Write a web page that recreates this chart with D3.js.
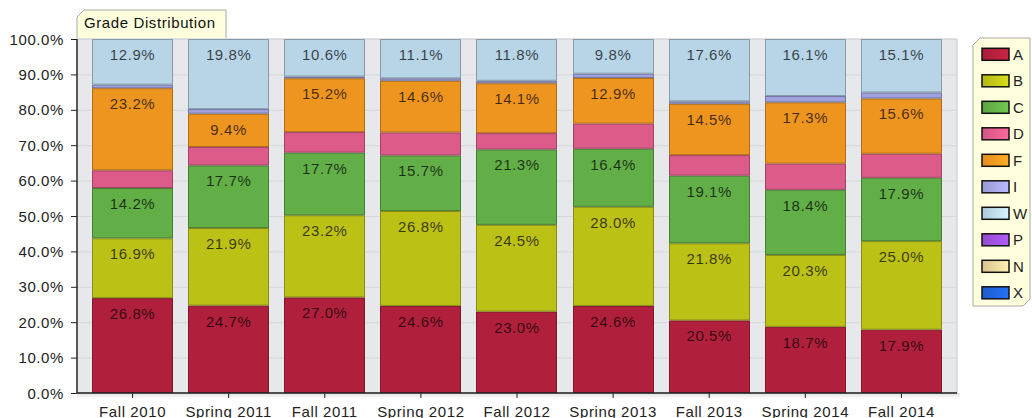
<!doctype html>
<html>
  <head>
    <script src="https://cdn.jsdelivr.net/npm/d3@7/dist/d3.min.js"></script>
    <style>
      body, html {
        margin: 0;
        background: #fff;
      }
      svg {
        display: block;
        font-family: "Liberation Sans", Arial, sans-serif;
      }
      .tick text, text.lbl, text.leg, text.title {
        letter-spacing: 0.6px;
      }
    </style>
  </head>
  <body>
    <svg width="1032" height="418"></svg>
    <script>
      var terms = ["Fall 2010", "Spring 2011", "Fall 2011", "Spring 2012", "Fall 2012",
                   "Spring 2013", "Fall 2013", "Spring 2014", "Fall 2014"];
      var grades = ["A", "B", "C", "D", "F", "I", "W", "P", "N", "X"];
      var colors = ["#b01f3c", "#bcc116", "#62ae47", "#dc5b8a", "#ee951f",
                    "#a0a2de", "#b8d5e8", "#9b4fd8", "#e6cf9a", "#1f62d8"];

      // percent of students per grade, one value per term
      var gA = [26.8, 24.7, 27.0, 24.6, 23.0, 24.6, 20.5, 18.7, 17.9];
      var gB = [16.9, 21.9, 23.2, 26.8, 24.5, 28.0, 21.8, 20.3, 25.0];
      var gC = [14.2, 17.7, 17.7, 15.7, 21.3, 16.4, 19.1, 18.4, 17.9];
      var gD = [5.0, 5.2, 5.8, 6.5, 4.6, 7.1, 5.8, 7.4, 6.8];
      var gF = [23.2, 9.4, 15.2, 14.6, 14.1, 12.9, 14.5, 17.3, 15.6];
      var gI = [1.0, 1.3, 0.5, 0.7, 0.7, 1.2, 0.7, 1.8, 1.7];
      var gW = [12.9, 19.8, 10.6, 11.1, 11.8, 9.8, 17.6, 16.1, 15.1];
      var gP = [0, 0, 0, 0, 0, 0, 0, 0, 0];
      var gN = [0, 0, 0, 0, 0, 0, 0, 0, 0];
      var gX = [0, 0, 0, 0, 0, 0, 0, 0, 0];
      var yTicks = [0, 10, 20, 30, 40, 50, 60, 70, 80, 90, 100];

      var series = [gA, gB, gC, gD, gF, gI, gW, gP, gN, gX];
      var rows = terms.map(function (t, i) {
        var r = {term: t};
        grades.forEach(function (g, k) { r[g] = series[k][i]; });
        return r;
      });

      var svg = d3.select("svg");
      var plotL = 77, plotR = 957, plotT = 39, plotB = 393;

      var x = d3.scaleBand().domain(terms).range([plotL, plotR]).padding(0.156);
      var y = d3.scaleLinear().domain([0, 100]).range([plotB, plotT]);
      var color = d3.scaleOrdinal().domain(grades).range(colors);

      var defs = svg.append("defs");
      var shadow = defs.append("linearGradient").attr("id", "shadowB")
        .attr("x1", 0).attr("y1", 0).attr("x2", 0).attr("y2", 1);
      shadow.append("stop").attr("offset", 0).attr("stop-color", "#000").attr("stop-opacity", 0.12);
      shadow.append("stop").attr("offset", 1).attr("stop-color", "#000").attr("stop-opacity", 0);
      grades.forEach(function (g) {
        var lg = defs.append("linearGradient").attr("id", "sw" + g);
        lg.append("stop").attr("offset", 0).attr("stop-color", d3.color(color(g)).darker(0.15));
        lg.append("stop").attr("offset", 1).attr("stop-color", d3.color(color(g)).brighter(0.4));
      });

      // plot background + shadow
      svg.append("rect").attr("x", plotL).attr("y", plotB).attr("width", plotR - plotL + 3)
        .attr("height", 6).attr("fill", "url(#shadowB)");
      svg.append("rect").attr("x", plotL).attr("y", plotT)
        .attr("width", plotR - plotL).attr("height", plotB - plotT)
        .attr("fill", "#e6e8eb").attr("stroke", "#c4c6c8");

      // grid
      svg.append("g").selectAll("line").data(yTicks.slice(1)).enter().append("line")
        .attr("x1", plotL).attr("x2", plotR)
        .attr("y1", function (d) { return y(d) + 0.5; })
        .attr("y2", function (d) { return y(d) + 0.5; })
        .attr("stroke", "#d5d7da");

      // stacked bars
      var stacked = d3.stack().keys(grades)(rows);
      var layer = svg.append("g").selectAll("g").data(stacked).enter().append("g")
        .attr("fill", function (d) { return color(d.key); })
        .attr("stroke", function (d) { return d3.color(color(d.key)).darker(0.9); });
      layer.selectAll("rect")
        .data(function (d) { return d.filter(function (p) { return p[1] - p[0] > 0; }); })
        .enter().append("rect")
          .attr("x", function (d) { return Math.round(x(d.data.term)) + 0.5; })
          .attr("width", Math.round(x.bandwidth()) - 1)
          .attr("y", function (d) { return y(d[1]) + 0.5; })
          .attr("height", function (d) { return Math.max(0, y(d[0]) - y(d[1]) - 1); });

      // value labels
      stacked.forEach(function (s) {
        s.forEach(function (p) {
          var v = p[1] - p[0];
          if (v < 8) return;
          svg.append("text").attr("class", "lbl")
            .attr("x", x(p.data.term) + x.bandwidth() / 2)
            .attr("y", y(p[1]) + 21)
            .attr("text-anchor", "middle")
            .attr("font-size", 15)
            .attr("fill", "#000").attr("fill-opacity", 0.72)
            .text(d3.format(".1f")(v) + "%");
        });
      });

      // axes
      var yAxis = svg.append("g").attr("transform", "translate(" + plotL + ",0)")
        .call(d3.axisLeft(y).tickValues(yTicks).tickSize(6).tickPadding(7)
          .tickFormat(function (d) { return d3.format(".1f")(d) + "%"; }));
      var xAxis = svg.append("g").attr("transform", "translate(0," + plotB + ")")
        .call(d3.axisBottom(x).tickSize(5).tickPadding(8));
      [yAxis, xAxis].forEach(function (a) {
        a.select(".domain").attr("stroke", "#222").attr("stroke-width", 1.4);
        a.selectAll(".tick line").attr("stroke", "#222");
        a.selectAll(".tick text").attr("font-size", 15).attr("fill", "#222")
          .attr("font-family", "'Liberation Sans', Arial, sans-serif");
      });
      yAxis.select(".domain").attr("d", "M0," + plotT + "V" + plotB);
      xAxis.select(".domain").attr("d", "M" + plotL + ",0H" + plotR);
      yAxis.selectAll(".tick text").attr("dy", "0.34em");
      xAxis.selectAll(".tick text").attr("dy", "0.71em");

      // title tab
      var tx0 = 77, tx1 = 226, ty0 = 10, ty1 = 38, ch = 7;
      svg.append("path")
        .attr("d", "M" + tx0 + "," + ty1 + "V" + (ty0 + ch) + "L" + (tx0 + ch) + "," + ty0 +
                   "H" + tx1 + "V" + ty1)
        .attr("fill", "#ffffde").attr("stroke", "#a8a8a0");
      svg.append("text").attr("class", "title").attr("x", 84).attr("y", 28)
        .attr("font-size", 15).attr("fill", "#111").text("Grade Distribution");

      // legend
      var lx0 = 973, lx1 = 1030, ly0 = 38, ly1 = 306, lc = 7;
      svg.append("path")
        .attr("d", "M" + lx0 + "," + (ly0 + lc) + "L" + (lx0 + lc) + "," + ly0 + "H" + lx1 +
                   "V" + (ly1 - lc) + "L" + (lx1 - lc) + "," + ly1 + "H" + lx0 + "Z")
        .attr("fill", "#ffffde").attr("stroke", "#a8a8a0");
      var leg = svg.append("g").selectAll("g").data(grades).enter().append("g")
        .attr("transform", function (d, i) { return "translate(982," + (54.3 + i * 26.5) + ")"; });
      leg.append("rect").attr("x", 0).attr("y", -6).attr("width", 27).attr("height", 12)
        .attr("fill", function (d) { return "url(#sw" + d + ")"; })
        .attr("stroke", "#111").attr("stroke-width", 1.5);
      leg.append("text").attr("class", "leg").attr("x", 31).attr("y", 5.5)
        .attr("font-size", 15).attr("fill", "#222").text(function (d) { return d; });
    </script>
  </body>
</html>
